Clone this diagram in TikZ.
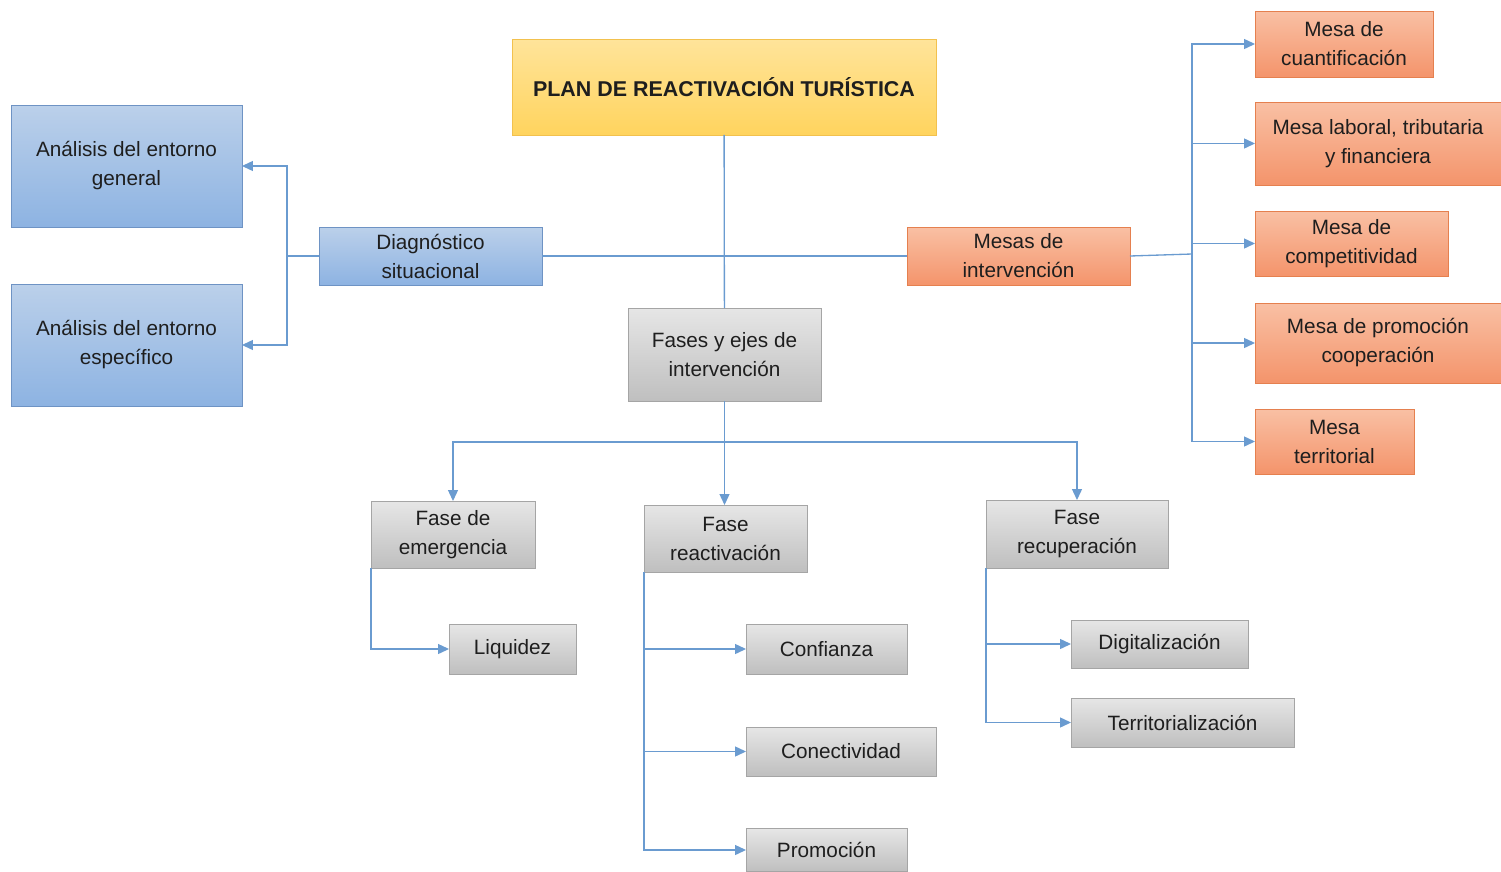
\documentclass[tikz,border=0pt]{standalone}
\usepackage{fontspec}
\setmainfont{Liberation Sans}
\usetikzlibrary{arrows.meta}

\definecolor{txt}{HTML}{1E1E1E}
\definecolor{linecol}{HTML}{6A9BD0}
\definecolor{bluetop}{HTML}{BBD0EA}
\definecolor{bluebot}{HTML}{8DB3E2}
\definecolor{blueline}{HTML}{6E93C4}
\definecolor{orangetop}{HTML}{F9C0A4}
\definecolor{orangebot}{HTML}{F4946B}
\definecolor{orangeline}{HTML}{E5804F}
\definecolor{graytop}{HTML}{E6E6E6}
\definecolor{graybot}{HTML}{BFBFBF}
\definecolor{grayline}{HTML}{A5A5A5}
\definecolor{yellowtop}{HTML}{FFE49A}
\definecolor{yellowbot}{HTML}{FFD45E}
\definecolor{yellowline}{HTML}{F2C14E}

\begin{document}
\begin{tikzpicture}[x=0.02cm, y=-0.02cm, font=\fontsize{11.8pt}{16.5pt}\selectfont, text=txt,
    every node/.style={align=center, inner sep=0pt, outer sep=0pt, anchor=center},
    bluebox/.style={draw=blueline, top color=bluetop, bottom color=bluebot},
    orangebox/.style={draw=orangeline, top color=orangetop, bottom color=orangebot},
    graybox/.style={draw=grayline, top color=graytop, bottom color=graybot},
    titlebox/.style={draw=yellowline, top color=yellowtop, bottom color=yellowbot, font=\fontsize{12.2pt}{14pt}\selectfont\bfseries},
    conn/.style={draw=linecol, line width=0.75pt},
    arrow/.style={conn, -{Triangle[length=0.22cm, width=0.2cm]}}]
    \useasboundingbox (0,0) rectangle (1501,872);

    % top and first level
    \node[titlebox, minimum width=8.48cm, minimum height=1.92cm] (title) at (724,87) {PLAN DE REACTIVACIÓN TURÍSTICA};
    \node[bluebox, minimum width=4.46cm, minimum height=1.16cm] (diag) at (430.5,256) {Diagnóstico\\situacional};
    \node[orangebox, minimum width=4.46cm, minimum height=1.16cm] (mesas) at (1018.5,256) {Mesas de\\intervención};
    \node[graybox, minimum width=3.86cm, minimum height=1.86cm] (fases) at (724.5,354.5) {Fases y ejes de\\intervención};

    % diagnostico
    \node[bluebox, minimum width=4.62cm, minimum height=2.44cm] (agen) at (126.5,166) {Análisis del entorno\\general};
    \node[bluebox, minimum width=4.62cm, minimum height=2.44cm] (aesp) at (126.5,345) {Análisis del entorno\\específico};

    % mesas
    \node[orangebox, minimum width=3.56cm, minimum height=1.32cm] (mcuan) at (1344,44) {Mesa de\\cuantificación};
    \node[orangebox, minimum width=4.92cm, minimum height=1.66cm] (mlab) at (1378,143.5) {Mesa laboral, tributaria\\y financiera};
    \node[orangebox, minimum width=3.86cm, minimum height=1.30cm] (mcomp) at (1351.5,243.5) {Mesa de\\competitividad};
    \node[orangebox, minimum width=4.92cm, minimum height=1.60cm] (mprom) at (1378,343) {Mesa de promoción\\cooperación};
    \node[orangebox, minimum width=3.18cm, minimum height=1.30cm] (mterr) at (1334.5,441.5) {Mesa\\territorial};

    % fases
    \node[graybox, minimum width=3.28cm, minimum height=1.34cm] (femer) at (453,534.5) {Fase de\\emergencia};
    \node[graybox, minimum width=3.26cm, minimum height=1.34cm] (freac) at (725.5,538.5) {Fase\\reactivación};
    \node[graybox, minimum width=3.64cm, minimum height=1.36cm] (frecu) at (1077,534) {Fase\\recuperación};

    \node[graybox, minimum width=2.54cm, minimum height=1.00cm] (liq) at (512.5,649) {Liquidez};
    \node[graybox, minimum width=3.22cm, minimum height=1.00cm] (conf) at (826.5,649) {Confianza};
    \node[graybox, minimum width=3.80cm, minimum height=0.98cm] (conec) at (841,751.5) {Conectividad};
    \node[graybox, minimum width=3.22cm, minimum height=0.86cm] (prom) at (826.5,850) {Promoción};
    \node[graybox, minimum width=3.54cm, minimum height=0.96cm] (digi) at (1159.5,644) {Digitalización};
    \node[graybox, minimum width=4.46cm, minimum height=0.98cm] (terri) at (1182.5,722.5) {Territorialización};

    % connectors
    \draw[conn] (title) -- (fases);
    \draw[conn] (diag) -- (mesas);

    \draw[conn] (diag.west) -- ++(-32,0) coordinate (dl);
    \draw[arrow] (dl) |- (agen);
    \draw[arrow] (dl) |- (aesp);

    \draw[conn] (mesas.east) -- ++(62,-2) coordinate (mr);
    \foreach \m in {mcuan, mlab, mcomp, mprom, mterr}
        \draw[arrow] (mr) |- (\m);

    \draw[conn] (fases.south) -- ++(0,41) coordinate (fb);
    \draw[arrow] (fb) -| (femer);
    \draw[arrow] (fb) -| (frecu);
    \draw[arrow] (fases.south) -- (fases.south |- freac.north);

    \draw[arrow] (femer.south west) |- (liq);
    \foreach \m in {conf, conec, prom}
        \draw[arrow] (freac.south west) |- (\m);
    \foreach \m in {digi, terri}
        \draw[arrow] (frecu.south west) |- (\m);
\end{tikzpicture}
\end{document}
